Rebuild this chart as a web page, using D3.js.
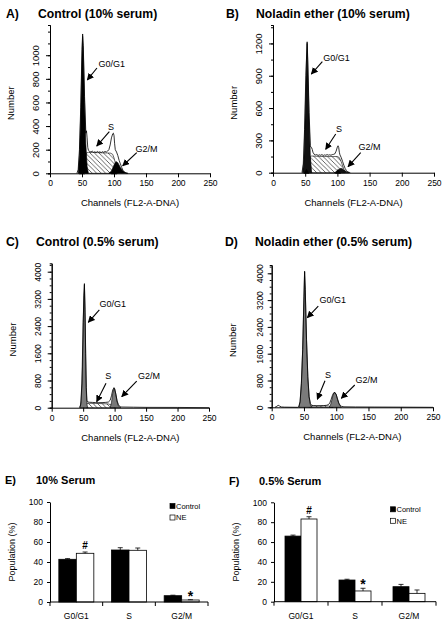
<!DOCTYPE html>
<html><head><meta charset="utf-8">
<script src="https://cdn.jsdelivr.net/npm/d3@7"></script>
<style>body{margin:0;background:#fff}svg{display:block}text{font-family:"Liberation Sans",Arial,sans-serif}</style>
</head><body><svg id="c" width="447" height="625"></svg>
<script>
// ---------- DATA ----------
const channelTicks = [0, 50, 100, 150, 200, 250];
const A_yTicks = [0, 200, 400, 600, 800, 1000];
const B_yTicks = [0, 300, 600, 900, 1200];
const CD_yTicks = [0, 800, 1600, 2400, 3200, 4000];

// Panel A: Control (10% serum)  [channel, count]
const A_total = [[42,0],[44,30],[46,200],[48,560],[50,1050],[51,1180],[52,1080],[54,650],[56,340],[57,360],[58,300],[59,220],[60,195],[62,185],[64,180],[66,188],[68,178],[70,182],[72,176],[74,185],[76,178],[78,182],[80,175],[82,183],[84,178],[86,185],[88,180],[90,188],[92,200],[94,240],[96,300],[98,335],[99,340],[100,320],[101,250],[102,200],[104,180],[106,150],[108,110],[110,80],[112,50],[114,25],[116,10],[120,0]];
const A_g1 = [[44,0],[46,150],[48,500],[50,1000],[51,1160],[52,1050],[54,600],[56,250],[58,60],[60,0]];
const A_s = [[55,0],[56,170],[60,178],[70,176],[80,174],[90,172],[95,170],[98,160],[100,130],[102,90],[104,40],[106,0]];
const A_g2 = [[92,0],[96,20],[100,70],[103,100],[106,90],[110,50],[114,20],[118,5],[122,0]];
const A_markers = [50, 100];

// Panel B: Noladin ether (10% serum)
const B_total = [[45,0],[47,80],[49,400],[51,900],[53,1215],[54,1050],[56,560],[58,250],[59,235],[60,232],[61,215],[62,190],[64,170],[66,165],[68,168],[70,160],[72,166],[74,162],[76,168],[78,160],[80,165],[82,162],[84,168],[86,163],[88,166],[90,162],[92,168],[94,170],[96,175],[98,200],[100,240],[101,250],[102,235],[103,190],[104,165],[106,140],[108,105],[110,70],[112,40],[114,20],[116,8],[120,0]];
const B_g1 = [[46,0],[48,120],[50,550],[52,1050],[53,1200],[54,1000],[56,500],[58,150],[60,0]];
const B_s = [[57,0],[58,150],[60,155],[70,152],[80,150],[90,150],[100,150],[103,140],[106,100],[109,50],[112,0]];
const B_g2 = [[95,0],[100,15],[104,38],[107,40],[110,25],[114,10],[118,0]];
const B_markers = [52, 101];

// Panel C: Control (0.5% serum)
const C_total = [[44,0],[46,80],[48,700],[50,2500],[52,3650],[53,2900],[54,1600],[55,600],[56,220],[57,170],[60,160],[65,155],[70,150],[75,148],[80,150],[85,155],[90,165],[93,220],[95,350],[97,520],[99,590],[100,560],[102,400],[104,200],[106,90],[108,40],[110,20],[130,15],[150,10],[200,8],[250,0]];
const C_g1 = [[45,0],[47,200],[49,1200],[50,2400],[51,3300],[52,3620],[53,2800],[54,1500],[55,500],[56,100],[57,0]];
const C_s = [[55,0],[56,130],[70,125],[80,120],[90,110],[95,80],[98,40],[100,0]];
const C_g2 = [[93,0],[95,150],[97,420],[99,570],[100,560],[102,380],[104,170],[106,60],[108,15],[110,0]];

// Panel D: Noladin ether (0.5% serum)
const D_total = [[5,0],[8,30],[10,60],[12,40],[15,10],[20,5],[40,0],[42,20],[44,180],[46,720],[48,1720],[50,3320],[51,4060],[52,3520],[54,2020],[56,920],[58,320],[60,110],[62,60],[65,50],[70,45],[75,45],[80,50],[85,60],[88,80],[90,130],[92,230],[94,350],[96,430],[98,440],[100,380],[102,250],[104,130],[106,60],[108,30],[112,15],[130,10],[160,8],[200,5],[250,0]];
const D_g1 = [[42,0],[44,150],[46,700],[48,1700],[50,3300],[51,4050],[52,3500],[54,2000],[56,900],[58,300],[60,80],[62,0]];
const D_s = [[58,0],[59,40],[70,40],[80,42],[88,40],[92,20],[95,0]];
const D_g2 = [[89,0],[91,60],[93,200],[95,360],[97,440],[98,445],[100,380],[102,240],[104,110],[106,40],[108,0]];

// annotation: [label, textChannel, textCount, fromChannel, fromCount, toChannel, toCount]
const A_notes = [["G0/G1",96.4,926,73.4,892,58.3,791],["S",95.3,395,92.7,353,73,231],["G2/M",150.8,212,135.5,175,113.6,64]];
const B_notes = [["G0/G1",98.6,1071,76.6,1031,59.5,916],["S",102.5,412,97.4,359,81.8,217],["G2/M",149.8,241,136.2,186,116.5,56]];
const C_notes = [["G0/G1",97.1,3050,75.7,2874,58.2,2512],["S",90,941,86.3,718,71.5,176],["G2/M",154.7,941,135.1,785,111.3,324]];
const D_notes = [["G0/G1",94.6,3203,72.2,3024,55.2,2675],["S",87.3,964,82.6,794,70.7,239],["G2/M",147,815,128.7,666,107.9,269]];

// Bar charts
const phases = ["G0/G1", "S", "G2/M"];
const seriesNames = ["Control", "NE"];
const popTicks = [0, 20, 40, 60, 80, 100];
const E_control = [42.7, 52.0, 6.3];
const E_controlErr = [0.7, 2.3, 0.5];
const E_ne = [48.7, 51.7, 2.0];
const E_neErr = [1.3, 2.3, 0.3];
const E_marks = ["", "#", "", "", "", "*"]; // per [phase][series]
const F_control = [66.0, 21.8, 15.1];
const F_controlErr = [1.0, 0.8, 2.3];
const F_ne = [83.2, 10.8, 8.4];
const F_neErr = [2.3, 2.7, 3.4];
const F_marks = ["", "#", "", "*", "", ""];

// ---------- DRAW ----------
const svg = d3.select("#c");
const FONT = '"Liberation Sans",Arial,sans-serif';
const defs = svg.append("defs");
const pat = defs.append("pattern").attr("id","hatch").attr("patternUnits","userSpaceOnUse")
  .attr("width",4.5).attr("height",4.5);
pat.append("path").attr("d","M0,0L4.5,4.5M-1,3.5L1,5.5M3.5,-1L5.5,1").attr("stroke","#000").attr("stroke-width",0.6);
defs.append("marker").attr("id","ah").attr("viewBox","0 0 10 10").attr("refX",9).attr("refY",5)
  .attr("markerWidth",7).attr("markerHeight",7).attr("markerUnits","userSpaceOnUse").attr("orient","auto")
  .append("path").attr("d","M0,0L10,5L0,10z").attr("fill","#000");

function title(x, xText, yBase, letter, txt, size){
  svg.append("text").attr("x",x).attr("y",yBase).attr("font-weight","bold").attr("font-size",size).text(letter);
  svg.append("text").attr("x",xText).attr("y",yBase).attr("font-weight","bold").attr("font-size",size).text(txt);
}

function hist(cfg){
  const x = d3.scaleLinear().domain([0,250]).range([cfg.x0,cfg.x1]);
  const y = d3.scaleLinear().domain([0,cfg.ymax]).range([cfg.yb,cfg.yt]);
  const g = svg.append("g");
  const area = d3.area().x(d=>x(d[0])).y0(y(0)).y1(d=>y(d[1]));
  const line = d3.line().x(d=>x(d[0])).y(d=>y(d[1]));
  g.append("path").datum(cfg.s).attr("d",area).attr("fill","url(#hatch)").attr("stroke","#000").attr("stroke-width",0.6);
  g.append("path").datum(cfg.g1).attr("d",area).attr("fill",cfg.fill).attr("stroke","#000").attr("stroke-width",0.6);
  g.append("path").datum(cfg.g2).attr("d",area).attr("fill",cfg.fill).attr("stroke","#000").attr("stroke-width",0.6);
  g.append("path").datum(cfg.total).attr("d",line).attr("fill","none").attr("stroke","#000").attr("stroke-width",0.8);
  // axes
  const xa = g.append("g").attr("transform",`translate(0,${cfg.yb})`)
    .call(d3.axisBottom(x).tickValues(d3.range(0,251,cfg.minorX)).tickSize(2).tickFormat(""));
  xa.call(d3.axisBottom(x).tickValues(channelTicks).tickSize(4).tickSizeOuter(0).tickPadding(3).tickFormat(d3.format("d")));
  xa.selectAll("text").attr("font-size",8.5).attr("font-family",FONT).attr("fill","#000");
  xa.selectAll("line,path").attr("stroke","#000");
  const ya = g.append("g").attr("transform",`translate(${cfg.x0},0)`)
    .call(d3.axisLeft(y).tickValues(d3.range(0,cfg.ymax,cfg.minorY)).tickSize(2).tickFormat(""));
  ya.append("g").call(d3.axisLeft(y).tickValues(cfg.yTicks).tickSize(4).tickSizeOuter(0).tickFormat(d3.format("d")))
    .selectAll("text").attr("font-size",cfg.yfs).attr("font-family",FONT).attr("fill","#000")
    .attr("x",0).attr("dy",0).attr("text-anchor","middle")
    .attr("transform",d=>`translate(${-cfg.ylab},0) rotate(-90)`);
  ya.selectAll("line,path").attr("stroke","#000");
  // phase markers
  (cfg.markers||[]).forEach(m=>{
    const px = x(m), py = cfg.yb;
    g.append("path").attr("d",`M${px-3},${py+1}L${px+3},${py+1}L${px},${py-4}z`).attr("fill","#000");
  });
  // axis titles
  g.append("text").attr("transform",`translate(${cfg.x0-36},${(cfg.yb+cfg.yt)/2+4}) rotate(-90)`)
    .attr("text-anchor","middle").attr("font-size",9.5).text("Number");
  g.append("text").attr("x",(cfg.x0+cfg.x1)/2).attr("y",cfg.yb+33).attr("text-anchor","middle")
    .attr("font-size",9.5).text("Channels (FL2-A-DNA)");
  // annotations
  cfg.notes.forEach(n=>{
    g.append("text").attr("x",x(n[1])).attr("y",y(n[2])+3.3).attr("text-anchor","middle").attr("font-size",9).text(n[0]);
    g.append("line").attr("x1",x(n[3])).attr("y1",y(n[4])).attr("x2",x(n[5])).attr("y2",y(n[6]))
      .attr("stroke","#000").attr("stroke-width",1.1).attr("marker-end","url(#ah)");
  });
}

title(6, 38, 17.5, "A)", "Control (10% serum)", 12.2);
title(226, 256, 17.5, "B)", "Noladin ether (10% serum)", 12.2);
title(6, 36, 246, "C)", "Control (0.5% serum)", 12.2);
title(225, 255, 246, "D)", "Noladin ether (0.5% serum)", 12.2);

hist({x0:50,x1:210,yb:173.3,yt:25,ymax:1256,yTicks:A_yTicks,minorY:100,minorX:10,ylab:11,yfs:9.5,
  total:A_total,g1:A_g1,s:A_s,g2:A_g2,markers:A_markers,fill:"#000",notes:A_notes});
hist({x0:273,x1:434,yb:172.7,yt:25,ymax:1371,yTicks:B_yTicks,minorY:150,minorX:10,ylab:11,yfs:9.5,
  total:B_total,g1:B_g1,s:B_s,g2:B_g2,markers:B_markers,fill:"#111",notes:B_notes});
hist({x0:51.7,x1:209,yb:407.7,yt:263.3,ymax:4247,yTicks:CD_yTicks,minorY:200,minorX:5,ylab:11,yfs:8.5,
  total:C_total,g1:C_g1,s:C_s,g2:C_g2,fill:"#7a7a7a",notes:C_notes});
hist({x0:271.7,x1:433,yb:407.3,yt:265,ymax:4248,yTicks:CD_yTicks,minorY:200,minorX:5,ylab:9,yfs:8.5,
  total:D_total,g1:D_g1,s:D_s,g2:D_g2,fill:"#7a7a7a",notes:D_notes});

function bars(cfg){
  const x = d3.scaleBand().domain(phases).range([cfg.x0,cfg.x1]);
  const y = d3.scaleLinear().domain([0,100]).range([cfg.yb,cfg.yt]);
  const bw = cfg.bw;
  const sub = d3.scaleBand().domain(seriesNames).range([0,2*bw]);
  const g = svg.append("g");
  const rows = [];
  phases.forEach((p,i)=>{
    rows.push({p,s:"Control",v:cfg.c[i],e:cfg.ce[i],m:cfg.marks[i*2]});
    rows.push({p,s:"NE",v:cfg.n[i],e:cfg.ne[i],m:cfg.marks[i*2+1]});
  });
  const bx = d=>x(d.p)+x.bandwidth()/2-bw+sub(d.s);
  g.selectAll("rect.b").data(rows).join("rect").attr("x",bx).attr("y",d=>y(d.v)).attr("width",bw)
    .attr("height",d=>y(0)-y(d.v)).attr("fill",d=>d.s==="Control"?"#000":"#fff").attr("stroke","#000").attr("stroke-width",0.8);
  rows.forEach(d=>{
    const cx = bx(d)+bw/2;
    g.append("line").attr("x1",cx).attr("x2",cx).attr("y1",y(d.v)).attr("y2",y(d.v+d.e)).attr("stroke","#000").attr("stroke-width",0.8);
    g.append("line").attr("x1",cx-2.5).attr("x2",cx+2.5).attr("y1",y(d.v+d.e)).attr("y2",y(d.v+d.e)).attr("stroke","#000").attr("stroke-width",0.8);
    if(d.m){
      g.append("text").attr("x",cx).attr("y",y(d.v+d.e)-(d.m==="*"?-1:3)).attr("text-anchor","middle")
        .attr("font-size",d.m==="*"?14:10).attr("font-weight","bold").text(d.m);
    }
  });
  // axes
  const ya = g.append("g").attr("transform",`translate(${cfg.x0},0)`)
    .call(d3.axisLeft(y).tickValues(popTicks).tickSize(3).tickSizeOuter(0).tickPadding(4));
  ya.selectAll("text").attr("font-size",8.5).attr("font-family",FONT).attr("fill","#000");
  ya.selectAll("line,path").attr("stroke","#000");
  g.append("line").attr("x1",cfg.x0).attr("x2",cfg.x1).attr("y1",cfg.yb).attr("y2",cfg.yb).attr("stroke","#000");
  const bounds = phases.map(p=>x(p)).concat([cfg.x1]);
  bounds.forEach(b=>g.append("line").attr("x1",b).attr("x2",b).attr("y1",cfg.yb).attr("y2",cfg.yb+4).attr("stroke","#000"));
  g.selectAll("text.cat").data(phases).join("text").attr("x",p=>x(p)+x.bandwidth()/2).attr("y",cfg.yb+17)
    .attr("text-anchor","middle").attr("font-size",8.5).text(p=>p);
  g.append("text").attr("transform",`translate(${cfg.x0-35},${(cfg.yb+cfg.yt)/2+0}) rotate(-90)`)
    .attr("text-anchor","middle").attr("font-size",9).text("Population (%)");
  // legend
  seriesNames.forEach((s,i)=>{
    const ly = cfg.ly + i*11.5;
    g.append("rect").attr("x",cfg.lx).attr("y",ly-2.5).attr("width",5).attr("height",5)
      .attr("fill",i===0?"#000":"#fff").attr("stroke","#000").attr("stroke-width",0.7);
    g.append("text").attr("x",cfg.lx+6).attr("y",ly+2.7).attr("font-size",7.5).text(s);
  });
}

title(5, 36, 484, "E)", "10% Serum", 11);
title(229, 259, 485, "F)", "0.5% Serum", 11);
bars({x0:50,x1:208,yb:602,yt:502,bw:17.5,c:E_control,ce:E_controlErr,n:E_ne,ne:E_neErr,marks:E_marks,lx:170,ly:506});
bars({x0:274,x1:436,yb:601.7,yt:502.3,bw:16,c:F_control,ce:F_controlErr,n:F_ne,ne:F_neErr,marks:F_marks,lx:390.5,ly:509.3});
</script></body></html>
